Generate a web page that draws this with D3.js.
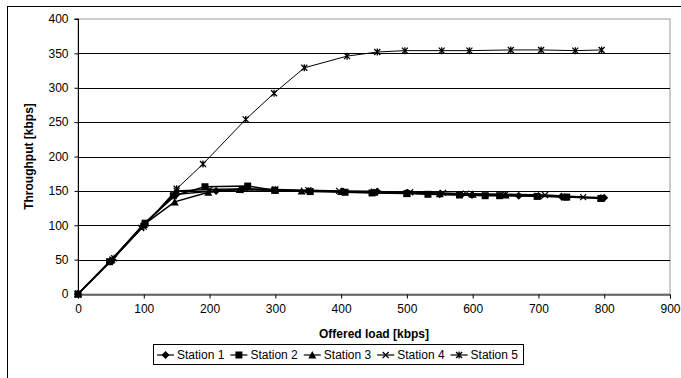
<!DOCTYPE html>
<html>
<head>
<meta charset="utf-8">
<script src="https://cdn.jsdelivr.net/npm/d3@7"></script>
<style>
  body { margin: 0; background: #fff; }
  svg { display: block; font-family: "Liberation Sans", Arial, sans-serif; }
</style>
</head>
<body>
<div id="chart"></div>
<script>
const width = 681, height = 378;

// offered load / throughput per station (kbps)
const s1x = [0, 50, 100, 150, 210, 250, 300, 350, 403, 455, 499, 550, 599, 670, 735, 800];
const s1y = [0, 48, 102, 145, 150, 152, 151, 150, 149, 149, 147, 145, 144, 143, 142, 140];
const s2x = [0, 48, 102, 145, 193, 258, 299, 353, 406, 447, 500, 532, 580, 619, 641, 698, 743, 795];
const s2y = [0, 47, 103, 143, 156, 157, 151, 149, 148, 147, 146, 145, 144, 143, 143, 142, 141, 139];
const s3x = [0, 50, 100, 147, 198, 246, 300, 340, 400, 450, 500, 550, 600, 650, 700, 740, 795];
const s3y = [0, 49, 101, 134, 148, 152, 151, 150, 149, 148, 147, 146, 145, 144, 143, 141, 140];
const s4x = [0, 52, 96, 150, 200, 255, 300, 350, 397, 450, 505, 555, 590, 650, 710, 768];
const s4y = [0, 50, 96, 150, 152, 153, 152, 151, 150, 149, 148, 147, 146, 145, 144, 141];
const s5x = [0, 55, 100, 150, 190, 255, 298, 344, 409, 455, 497, 553, 595, 658, 704, 756, 796];
const s5y = [0, 52, 98, 153, 189, 254, 292, 329, 346, 352, 354, 354, 354, 355, 355, 354, 355];

const names = ["Station 1", "Station 2", "Station 3", "Station 4", "Station 5"];
const markers = ["diamond", "square", "triangle", "cross", "star"];
const xTicks = [0, 100, 200, 300, 400, 500, 600, 700, 800, 900];
const yTicks = [0, 50, 100, 150, 200, 250, 300, 350, 400];

const series = [
  [s1x, s1y], [s2x, s2y], [s3x, s3y], [s4x, s4y], [s5x, s5y]
].map((d, i) => ({
  name: names[i], marker: markers[i],
  values: d[0].map((x, j) => ({x: x, y: d[1][j]}))
}));

const svg = d3.select("#chart").append("svg")
    .attr("width", width)
    .attr("height", height);

// outer chart border
svg.append("rect")
    .attr("x", 7.5).attr("y", 6.5)
    .attr("width", 700).attr("height", 400)
    .attr("fill", "none").attr("stroke", "#000").attr("stroke-width", 1);

const x = d3.scaleLinear().domain([0, 900]).range([78, 670]);
const y = d3.scaleLinear().domain([0, 400]).range([294, 19]);

// plot area border (grey)
svg.append("rect")
    .attr("x", x(0)).attr("y", y(400))
    .attr("width", x(900) - x(0)).attr("height", y(0) - y(400))
    .attr("fill", "none").attr("stroke", "#999").attr("stroke-width", 1);

// grid
svg.append("g")
  .selectAll("line").data(yTicks.filter(d => d > 0 && d < 400))
  .join("line")
    .attr("x1", x(0)).attr("x2", x(900))
    .attr("y1", d => Math.round(y(d)) + 0.5).attr("y2", d => Math.round(y(d)) + 0.5)
    .attr("stroke", "#000").attr("stroke-width", 1);

const xAxis = svg.append("g")
    .attr("transform", `translate(0,${Math.round(y(0)) + 0.5})`)
    .call(d3.axisBottom(x).tickValues(xTicks).tickSize(4).tickPadding(6));
const yAxis = svg.append("g")
    .attr("transform", `translate(${Math.round(x(0)) + 0.5},0)`)
    .call(d3.axisLeft(y).tickValues(yTicks).tickSize(4).tickPadding(6));

[xAxis, yAxis].forEach(a => {
  a.select(".domain").attr("stroke", "#000");
  a.selectAll(".tick line").attr("stroke", "#000");
  a.selectAll("text").attr("fill", "#000")
      .style("font-size", "12px")
      .style("font-family", "'Liberation Sans', Arial, sans-serif");
});
yAxis.select(".domain").attr("d", `M-4,${y(400)}H0V${y(0)}`);

// axis titles
svg.append("text")
    .attr("x", 374).attr("y", 338)
    .attr("text-anchor", "middle")
    .style("font-size", "12px").style("font-weight", "bold")
    .text("Offered load [kbps]");
svg.append("text")
    .attr("transform", `translate(33,${(y(0) + y(400)) / 2}) rotate(-90)`)
    .attr("text-anchor", "middle")
    .style("font-size", "12px").style("font-weight", "bold")
    .text("Throughput [kbps]");

const line = d3.line().x(d => x(d.x)).y(d => y(d.y));

function drawMarker(g, type) {
  if (type == "diamond") {
    g.append("path").attr("d", "M0,-4L4,0L0,4L-4,0Z").attr("fill", "#000");
  } else if (type == "square") {
    g.append("rect").attr("x", -3.5).attr("y", -3.5).attr("width", 7).attr("height", 7).attr("fill", "#000");
  } else if (type == "triangle") {
    g.append("path").attr("d", "M0,-4L4,3.5L-4,3.5Z").attr("fill", "#000");
  } else if (type == "cross") {
    g.append("path").attr("d", "M-3,-3L3,3M-3,3L3,-3").attr("stroke", "#000").attr("stroke-width", 1.2);
  } else {
    g.append("path").attr("d", "M-3,-3L3,3M-3,3L3,-3M0,-3.5V3.5")
        .attr("stroke", "#000").attr("stroke-width", 1.3);
  }
}

const sg = svg.append("g").selectAll("g").data(series).join("g");
sg.append("path")
    .attr("d", d => line(d.values))
    .attr("fill", "none")
    .attr("stroke", "#000")
    .attr("stroke-width", d => d.marker == "star" ? 1 : 1.5);
sg.each(function(s) {
  d3.select(this).selectAll("g.m").data(s.values).join("g")
      .attr("class", "m")
      .attr("transform", d => `translate(${x(d.x)},${y(d.y)})`)
      .each(function() { drawMarker(d3.select(this), s.marker); });
});

// legend
const legend = svg.append("g");
legend.append("rect")
    .attr("x", 153.5).attr("y", 344.5)
    .attr("width", 370).attr("height", 20)
    .attr("fill", "#fff").attr("stroke", "#000");
const li = legend.selectAll("g").data(series).join("g")
    .attr("transform", (d, i) => `translate(${157 + i * 73.4},355)`);
li.append("line").attr("x1", 0).attr("x2", 17).attr("stroke", "#000").attr("stroke-width", 1.2);
li.append("g").attr("transform", "translate(8.5,0)").each(function(d) { drawMarker(d3.select(this), d.marker); });
li.append("text")
    .attr("x", 20).attr("y", 4)
    .style("font-size", "12px")
    .text(d => d.name);
</script>
</body>
</html>
